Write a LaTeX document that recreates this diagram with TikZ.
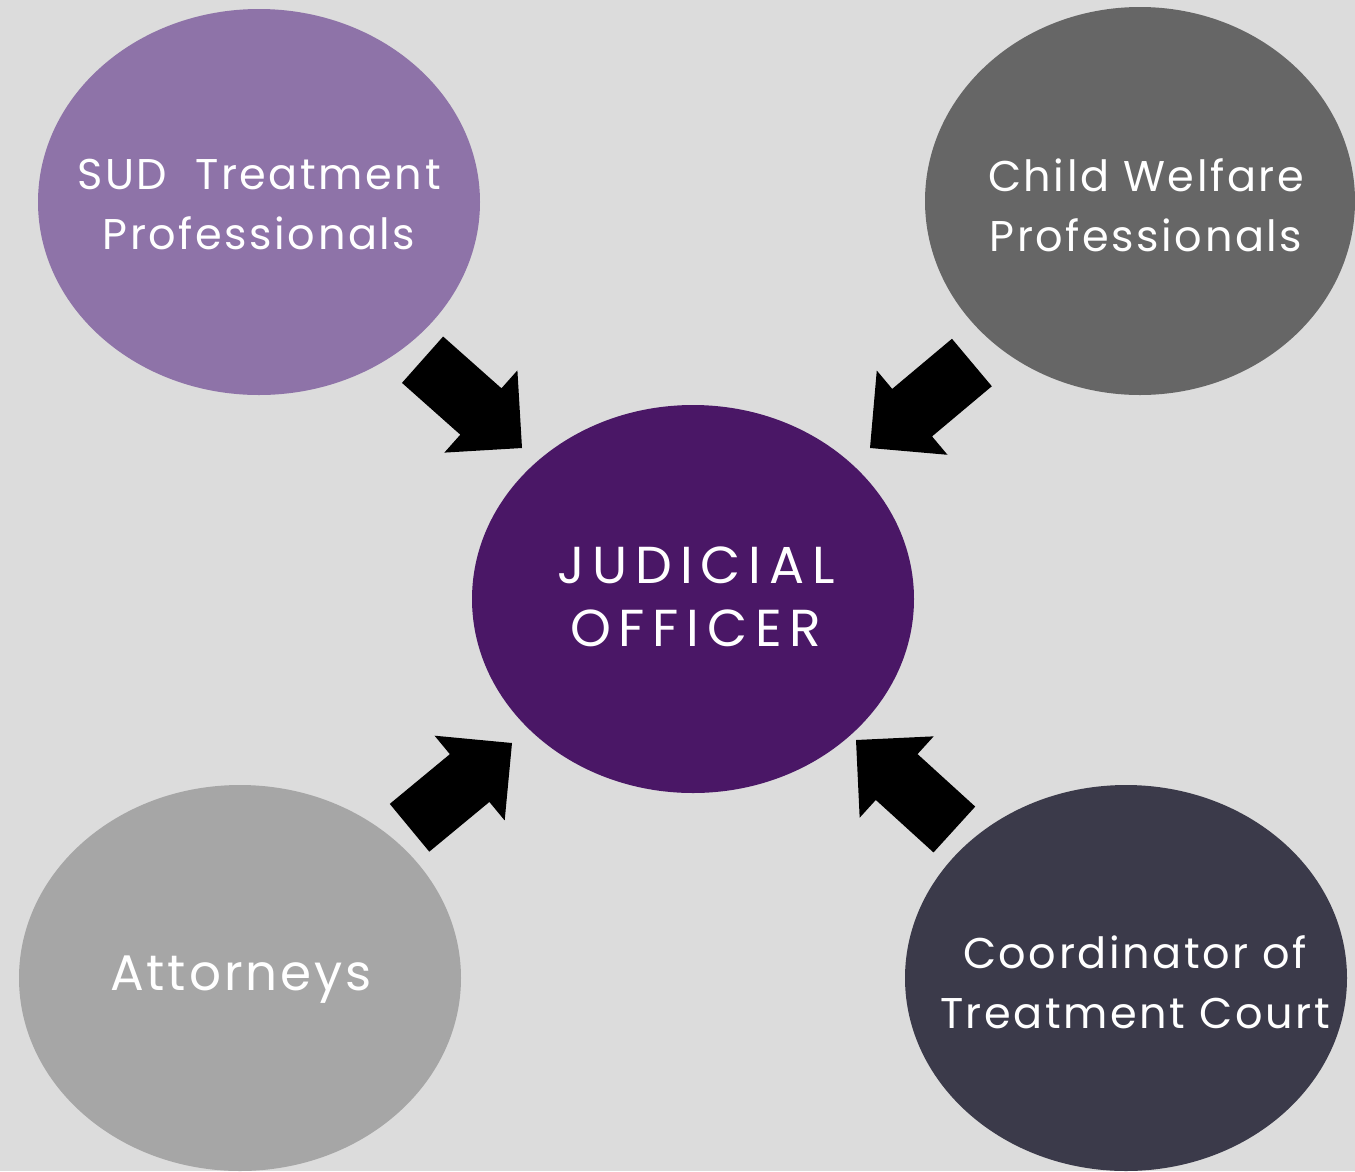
\documentclass[tikz,border=0pt]{standalone}
\usepackage{fontspec}
\setmainfont{Poppins}
\newfontfamily\lsfont[LetterSpace=6]{Poppins}
\newfontfamily\jsfont[LetterSpace=15]{Poppins}
\usetikzlibrary{shapes.geometric}
\definecolor{bg}{HTML}{DCDCDC}
\definecolor{sudc}{HTML}{8E73A8}
\definecolor{childc}{HTML}{666666}
\definecolor{judc}{HTML}{4A1766}
\definecolor{attc}{HTML}{A6A6A6}
\definecolor{coordc}{HTML}{3B3A4A}
\tikzset{
  bubble/.style={ellipse, inner sep=0pt, minimum width=442pt, minimum height=386pt},
  txt/.style={text=white, align=center, inner sep=0pt, font=\lsfont\fontsize{43}{60}\selectfont},
  blockarrow/.pic={\fill[black] (0,0) -- (-55,55) -- (-55,31) -- (-133,31) -- (-133,-31) -- (-55,-31) -- (-55,-55) -- cycle;}
}
\begin{document}
\begin{tikzpicture}[x=1pt,y=-1pt]
\fill[bg] (0,0) rectangle (1355,1171);
\useasboundingbox (0,0) rectangle (1355,1171);
\node[bubble, fill=sudc] (sud) at (259,202) {};
\node[bubble, fill=childc, minimum width=430pt, minimum height=388pt] (child) at (1140,201) {};
\node[bubble, fill=judc, minimum height=388pt] (jud) at (693,599) {};
\node[bubble, fill=attc] (att) at (240,978) {};
\node[bubble, fill=coordc] (coord) at (1126,978) {};
\node[txt] (sudt) at (259,205) {SUD\ \ Treatment\\Professionals};
\node[txt] (childt) at (1146,205) {Child Welfare\\Professionals};
\node[txt, font=\jsfont\fontsize{52}{63}\selectfont] (judt) at (696,597) {JUDICIAL\\OFFICER};
\node[txt, font=\lsfont\fontsize{50}{60}\selectfont] (attt) at (241,980) {Attorneys};
\node[txt] (coordt) at (1135,982) {Coordinator of\\Treatment Court};
\coordinate (t1) at (522,448);
\coordinate (t2) at (870,448);
\coordinate (t3) at (512,743);
\coordinate (t4) at (856,740);
\pic[rotate=-41.6] at (t1) {blockarrow};
\pic[rotate=220] at (t2) {blockarrow};
\pic[rotate=39.6] at (t3) {blockarrow};
\pic[rotate=137.7] at (t4) {blockarrow};
\end{tikzpicture}
\end{document}
